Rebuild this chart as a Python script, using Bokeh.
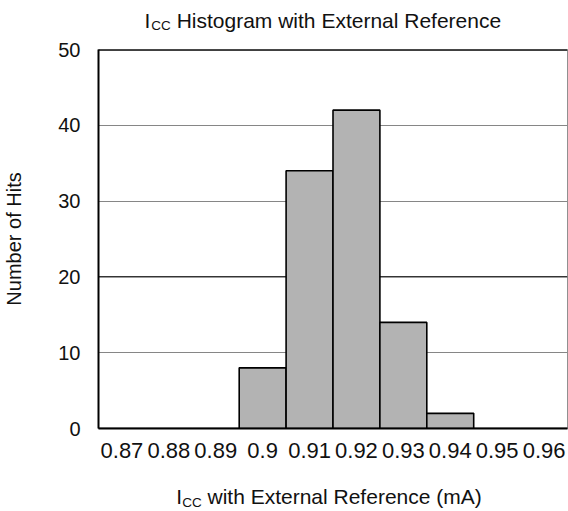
from bokeh.plotting import figure
from bokeh.models import FactorRange, Range1d, Span, FixedTicker, ColumnDataSource, Div
from bokeh.layouts import column
from bokeh.embed import file_html
from bokeh.resources import INLINE

# Data
categories = ["0.87", "0.88", "0.89", "0.9", "0.91", "0.92", "0.93", "0.94", "0.95", "0.96"]
hits = [0, 0, 0, 8, 34, 42, 14, 2, 0, 0]
y_ticks = [0, 10, 20, 30, 40, 50]

FONT = "Liberation Sans"
TXT = "#111111"

src = ColumnDataSource(data=dict(cat=categories, hits=hits))

p = figure(width=568, height=430, output_backend="svg", toolbar_location=None, title=None,
           x_range=FactorRange(*categories, range_padding=0),
           y_range=Range1d(0, 50),
           min_border_left=98, min_border_right=1, min_border_top=9, min_border_bottom=42)

p.background_fill_color = "white"
p.border_fill_color = "white"
p.outline_line_color = "#909090"
p.outline_line_width = 1

# grid
p.xgrid.grid_line_color = None
p.ygrid.grid_line_color = "#868686"
p.ygrid.grid_line_width = 1
p.yaxis.ticker = FixedTicker(ticks=y_ticks)

mid = Span(location=20, dimension="width", line_color="black", line_width=1, level="underlay")
p.add_layout(mid)

p.vbar(x="cat", top="hits", width=1.0, source=src, fill_color="#b3b3b3",
       line_color="black", line_width=1.6)

top_border = Span(location=50, dimension="width", line_color="black", line_width=2.5)
p.add_layout(top_border)

# axes
for ax in (p.xaxis[0], p.yaxis[0]):
    ax.axis_line_color = "black"
    ax.axis_line_width = 2
    ax.major_tick_line_color = None
    ax.minor_tick_line_color = None
    ax.major_tick_out = 0
    ax.major_tick_in = 0
    ax.major_label_text_font = FONT
    ax.major_label_text_color = TXT

p.xaxis.major_label_text_font_size = "22px"
p.yaxis.major_label_text_font_size = "20px"
p.xaxis.major_label_standoff = 14
p.yaxis.major_label_standoff = 18
p.yaxis.axis_label = "Number of Hits"
p.yaxis.axis_label_text_font = FONT
p.yaxis.axis_label_text_font_size = "20px"
p.yaxis.axis_label_text_font_style = "normal"
p.yaxis.axis_label_text_color = TXT
p.yaxis.axis_label_standoff = 30

def text_div(html, height, pad_left, pad_top, sub_shift):
    return Div(text=html, width=568, height=height, margin=(0, 0, 0, 0),
               styles={"font-family": FONT, "font-size": "21px", "color": TXT,
                       "line-height": "23px", "padding-left": f"{pad_left}px",
                       "padding-top": f"{pad_top}px", "white-space": "nowrap",
                       "box-sizing": "border-box"},
               stylesheets=[f"sub {{ font-size: 13.5px; vertical-align: {sub_shift}px; line-height: 0; }}"])

title_div = text_div('I<sub style="margin-left:1px">CC</sub> Histogram with External Reference',
                     40, 144.5, 9, -2)
xlabel_div = text_div("I<sub>CC</sub> with External Reference (mA)", 41, 176.3, 15, -3)

layout = column(title_div, p, xlabel_div, spacing=0, margin=(0, 0, 0, 0))

open("out.html", "w").write(file_html(layout, INLINE))
